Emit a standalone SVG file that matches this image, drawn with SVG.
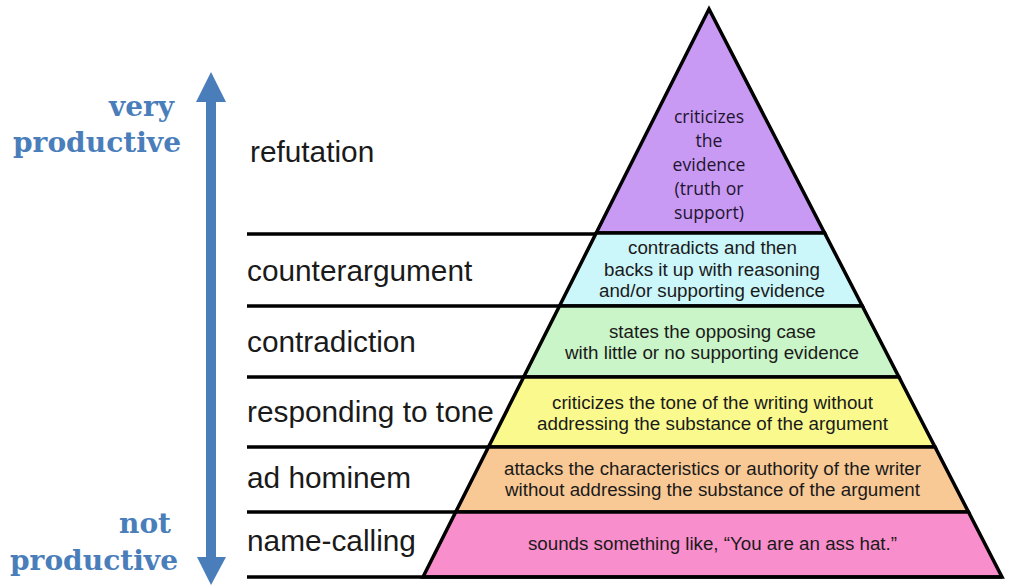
<svg xmlns="http://www.w3.org/2000/svg" width="1019" height="586" viewBox="0 0 1019 586">
<style>
.tier{stroke:#000;stroke-width:3.5;stroke-linejoin:miter}
.rule{stroke:#000;stroke-width:3.5;fill:none}
.lab{font-family:"Liberation Sans",Arial,sans-serif;font-size:29.8px;fill:#1a1a1a}
.desc{font-family:"Liberation Sans",Arial,sans-serif;font-size:17.5px;fill:#1a1a1a;text-anchor:middle}
.top{font-family:"Open Sans","Noto Sans",sans-serif;font-size:17.6px;fill:#1e1430;text-anchor:middle}
.prod{font-family:"DejaVu Serif","Liberation Serif",serif;font-weight:bold;font-size:28px;fill:#4a7ebb;text-anchor:end}
</style>
<rect width="1019" height="586" fill="#fff"/>
<g id="arrow" fill="#4a7ebb">
<rect x="206" y="100" width="10" height="460"/>
<polygon points="211,72 196,102 226,102"/>
<polygon points="211,585 197,557 226,557"/>
</g>
<g id="axis-labels">
<text class="prod" x="174" y="116">very</text>
<text class="prod" x="181" y="152" textLength="168" lengthAdjust="spacingAndGlyphs">productive</text>
<text class="prod" x="171" y="533">not</text>
<text class="prod" x="178" y="570" textLength="168" lengthAdjust="spacingAndGlyphs">productive</text>
</g>
<g id="tier-refutation">
<polygon class="tier" fill="#c99af3" points="709,9 824.6,233 596.2,233"/>
<text class="top" x="709" y="123">criticizes</text>
<text class="top" x="709" y="147">the</text>
<text class="top" x="709" y="171">evidence</text>
<text class="top" x="709" y="195">(truth or</text>
<text class="top" x="709" y="219">support)</text>
<text class="lab" x="250" y="162">refutation</text>
</g>
<g id="tier-counterargument">
<polygon class="tier" fill="#cbf6fa" points="596.2,233 824.6,233 862.3,306 559.5,306"/>
<text class="desc" x="712.5" y="254" textLength="169" lengthAdjust="spacingAndGlyphs">contradicts and then</text>
<text class="desc" x="712" y="276" textLength="216" lengthAdjust="spacingAndGlyphs">backs it up with reasoning</text>
<text class="desc" x="712" y="297" textLength="226" lengthAdjust="spacingAndGlyphs">and/or supporting evidence</text>
<text class="lab" x="247" y="281">counterargument</text>
</g>
<g id="tier-contradiction">
<polygon class="tier" fill="#caf5c8" points="559.5,306 862.3,306 898.9,377 523.7,377"/>
<text class="desc" x="712.5" y="338" textLength="207" lengthAdjust="spacingAndGlyphs">states the opposing case</text>
<text class="desc" x="712" y="359" textLength="294" lengthAdjust="spacingAndGlyphs">with little or no supporting evidence</text>
<text class="lab" x="247" y="352">contradiction</text>
</g>
<g id="tier-tone">
<polygon class="tier" fill="#f9f98e" points="523.7,377 898.9,377 935,447 488.5,447"/>
<text class="desc" x="712.5" y="409" textLength="321" lengthAdjust="spacingAndGlyphs">criticizes the tone of the writing without</text>
<text class="desc" x="712.5" y="430" textLength="351" lengthAdjust="spacingAndGlyphs">addressing the substance of the argument</text>
<text class="lab" x="247" y="422">responding to tone</text>
</g>
<g id="tier-adhominem">
<polygon class="tier" fill="#f9c995" points="488.5,447 935,447 968.5,512 455.7,512"/>
<text class="desc" x="712.5" y="475" textLength="417" lengthAdjust="spacingAndGlyphs">attacks the characteristics or authority of the writer</text>
<text class="desc" x="712.5" y="496" textLength="415" lengthAdjust="spacingAndGlyphs">without addressing the substance of the argument</text>
<text class="lab" x="247" y="488">ad hominem</text>
</g>
<g id="tier-namecalling">
<polygon class="tier" fill="#f98ecd" points="455.7,512 968.5,512 1002,577 423,577"/>
<text class="desc" x="712.5" y="550" textLength="369" lengthAdjust="spacingAndGlyphs">sounds something like, “You are an ass hat.”</text>
<text class="lab" x="247" y="551">name-calling</text>
</g>
<g id="connectors">
<line class="rule" x1="247" y1="234" x2="596" y2="234"/>
<line class="rule" x1="247" y1="306" x2="560" y2="306"/>
<line class="rule" x1="247" y1="377" x2="524" y2="377"/>
<line class="rule" x1="247" y1="447" x2="489" y2="447"/>
<line class="rule" x1="247" y1="512" x2="456" y2="512"/>
<line class="rule" x1="247" y1="577" x2="1002" y2="577"/>
</g>
</svg>
